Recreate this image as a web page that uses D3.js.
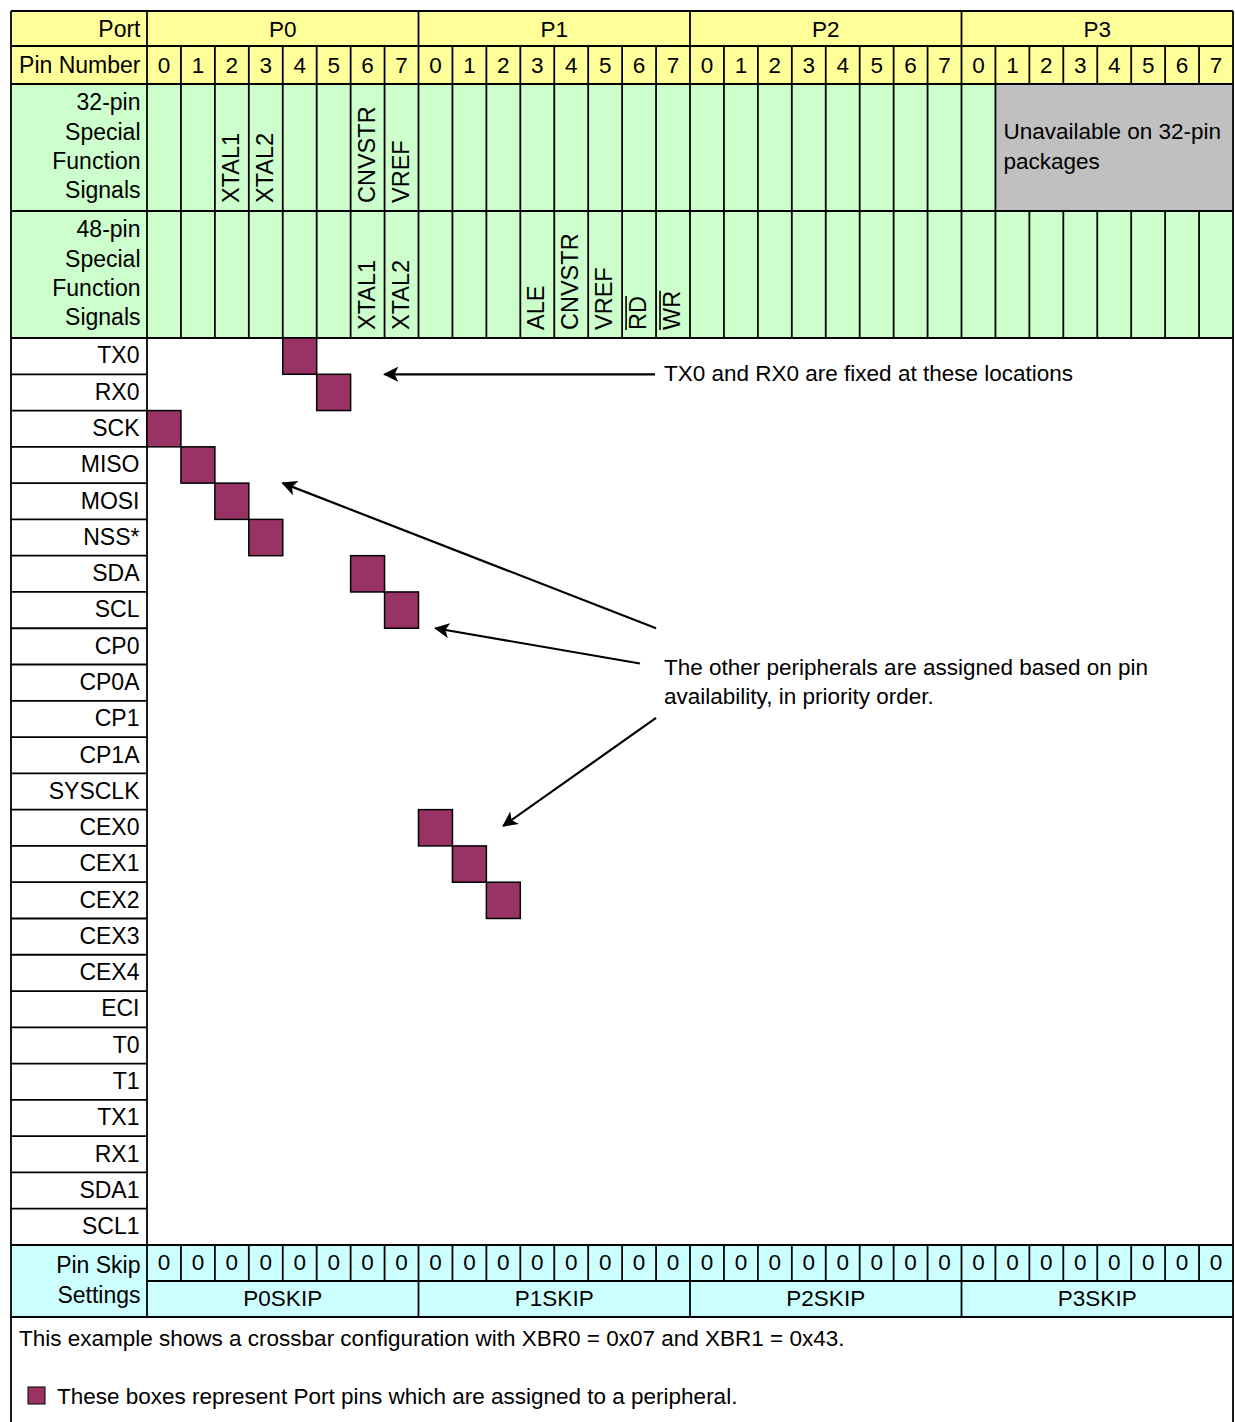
<!DOCTYPE html>
<html>
<head>
<meta charset="utf-8">
<script src="https://cdn.jsdelivr.net/npm/d3@7"></script>
<style>
body { margin: 0; background: #fff; }
svg text { font-family: "Liberation Sans", Arial, sans-serif; font-size: 22.5px; fill: #000; }
svg text.lbl { font-size: 23px; }
svg text.rot { font-size: 23.5px; }
</style>
</head>
<body>
<svg id="chart" width="1235" height="1422"></svg>
<script>
// ---- data ----
const ports = ["P0", "P1", "P2", "P3"];
const pinNumbers = [0, 1, 2, 3, 4, 5, 6, 7];
const peripherals = ["TX0", "RX0", "SCK", "MISO", "MOSI", "NSS*", "SDA", "SCL", "CP0", "CP0A",
    "CP1", "CP1A", "SYSCLK", "CEX0", "CEX1", "CEX2", "CEX3", "CEX4", "ECI", "T0", "T1",
    "TX1", "RX1", "SDA1", "SCL1"];
// crossbar assignment: signal -> port pin index (0..31)
const assignedSignals = ["TX0", "RX0", "SCK", "MISO", "MOSI", "NSS*", "SDA", "SCL", "CEX0", "CEX1", "CEX2"];
const assignedPins = [4, 5, 0, 1, 2, 3, 6, 7, 8, 9, 10];
const special32Pins = [2, 3, 6, 7];
const special32Names = ["XTAL1", "XTAL2", "CNVSTR", "VREF"];
const special48Pins = [6, 7, 11, 12, 13, 14, 15];
const special48Names = ["XTAL1", "XTAL2", "ALE", "CNVSTR", "VREF", "RD", "WR"];
const special48Bar = [false, false, false, false, false, true, true];
const unavailable32First = 25;   // P3.1 .. P3.7 not bonded on 32-pin
const skipBits = [0, 0, 0, 0, 0, 0, 0, 0, 0, 0, 0, 0, 0, 0, 0, 0,
                  0, 0, 0, 0, 0, 0, 0, 0, 0, 0, 0, 0, 0, 0, 0, 0];
const skipRegisters = ["P0SKIP", "P1SKIP", "P2SKIP", "P3SKIP"];

// ---- layout ----
const xLeft = 11, labelRight = 147, xRight = 1233, yTop = 11;
const yPort = [11, 46], yPin = [46, 84], y32 = [84, 211], y48 = [211, 338];
const yPeriph = [338, 1245], ySkip = [1245, 1281], ySkipName = [1281, 1317];
const yBottom = 1422;

const colors = {header: "#ffff99", special: "#ccffcc", gray: "#c0c0c0", skip: "#ccffff", pin: "#993366"};

const svg = d3.select("#chart");
const nPins = ports.length * pinNumbers.length;
const x = d3.scaleBand().domain(d3.range(nPins)).range([labelRight, xRight]);
const xPort = d3.scaleBand().domain(ports).range([labelRight, xRight]);
const y = d3.scaleBand().domain(peripherals).range(yPeriph);
const bw = x.bandwidth();

// backgrounds
const bands = [[yPort, colors.header], [yPin, colors.header], [y32, colors.special],
               [y48, colors.special], [[ySkip[0], ySkipName[1]], colors.skip]];
svg.selectAll("rect.band").data(bands).enter().append("rect")
    .attr("x", xLeft).attr("width", xRight - xLeft)
    .attr("y", d => d[0][0]).attr("height", d => d[0][1] - d[0][0])
    .attr("fill", d => d[1]);

svg.append("rect")
    .attr("x", x(unavailable32First)).attr("y", y32[0])
    .attr("width", xRight - x(unavailable32First)).attr("height", y32[1] - y32[0])
    .attr("fill", colors.gray);

// grid lines
const g = svg.append("g").attr("stroke", "#000").attr("stroke-width", 1.8).attr("fill", "none");
function line(x1, y1, x2, y2) {
    g.append("line").attr("x1", x1).attr("y1", y1).attr("x2", x2).attr("y2", y2);
}
line(xLeft, yTop, xRight, yTop);
line(xLeft, yTop, xLeft, yBottom);
line(xRight, yTop, xRight, yBottom);
[yPort[1], yPin[1], y32[1], y48[1], ySkip[0], ySkipName[1]].forEach(v => line(xLeft, v, xRight, v));
line(labelRight, ySkip[1], xRight, ySkip[1]);
line(labelRight, yTop, labelRight, ySkipName[1]);
peripherals.slice(1).forEach(p => line(xLeft, y(p), labelRight, y(p)));
d3.range(1, nPins).forEach(i => {
    const xi = x(i);
    if (i % 8 === 0) {
        line(xi, yPort[0], xi, yPort[1]);
        line(xi, ySkipName[0], xi, ySkipName[1]);
    }
    line(xi, yPin[0], xi, y32[0]);
    if (i <= unavailable32First) line(xi, y32[0], xi, y32[1]);
    line(xi, y48[0], xi, y48[1]);
    line(xi, ySkip[0], xi, ySkip[1]);
});

// header text
const labelX = 140.5;
function label(txt, yc) {
    svg.append("text").attr("class", "lbl").attr("x", labelX).attr("y", yc).attr("dy", "0.36em")
        .attr("text-anchor", "end").text(txt);
}
label("Port", 29);
label("Pin Number", 65);
["32-pin", "Special", "Function", "Signals"].forEach((t, i) => label(t, 102 + i * 29.3));
["48-pin", "Special", "Function", "Signals"].forEach((t, i) => label(t, 229 + i * 29.3));
label("Pin Skip", 1265);
label("Settings", 1295);

svg.selectAll("text.port").data(ports).enter().append("text")
    .attr("x", d => xPort(d) + xPort.bandwidth() / 2).attr("y", 29).attr("dy", "0.36em")
    .attr("text-anchor", "middle").text(d => d);

svg.selectAll("text.pin").data(d3.range(nPins)).enter().append("text")
    .attr("x", d => x(d) + bw / 2).attr("y", 65).attr("dy", "0.36em")
    .attr("text-anchor", "middle").text(d => pinNumbers[d % 8]);

svg.selectAll("text.skip").data(skipBits).enter().append("text")
    .attr("x", (d, i) => x(i) + bw / 2).attr("y", 1262).attr("dy", "0.36em")
    .attr("text-anchor", "middle").text(d => d);

svg.selectAll("text.skipname").data(skipRegisters).enter().append("text")
    .attr("x", (d, i) => xPort(ports[i]) + xPort.bandwidth() / 2).attr("y", 1298).attr("dy", "0.36em")
    .attr("text-anchor", "middle").text(d => d);

// special function signals (rotated)
function vertical(pins, names, bars, yb) {
    pins.forEach((p, i) => {
        const gg = svg.append("g").attr("transform", `translate(${x(p) + bw / 2},${yb}) rotate(-90)`);
        const t = gg.append("text").attr("class", "rot").attr("x", 0).attr("y", 7).text(names[i]);
        if (bars && bars[i]) {
            const len = t.node().getComputedTextLength();
            gg.append("line").attr("x1", 0).attr("x2", len).attr("y1", -13).attr("y2", -13)
                .attr("stroke", "#000").attr("stroke-width", 1.6);
        }
    });
}
vertical(special32Pins, special32Names, null, y32[1] - 8);
vertical(special48Pins, special48Names, special48Bar, y48[1] - 8);

svg.append("text").attr("x", x(unavailable32First) + 8).attr("y", 131).attr("dy", "0.36em").text("Unavailable on 32-pin");
svg.append("text").attr("x", x(unavailable32First) + 8).attr("y", 161).attr("dy", "0.36em").text("packages");

// peripheral labels
svg.selectAll("text.periph").data(peripherals).enter().append("text")
    .attr("class", "lbl")
    .attr("x", labelX - 1).attr("y", d => y(d) + y.bandwidth() / 2 - 1).attr("dy", "0.36em")
    .attr("text-anchor", "end").text(d => d);

// assigned pins
svg.selectAll("rect.assigned").data(assignedSignals).enter().append("rect")
    .attr("x", (d, i) => x(assignedPins[i])).attr("y", d => y(d))
    .attr("width", bw).attr("height", y.bandwidth())
    .attr("fill", colors.pin).attr("stroke", "#000").attr("stroke-width", 1.5);

// annotation arrows
svg.append("defs").append("marker")
    .attr("id", "head").attr("viewBox", "0 0 10 10").attr("refX", 9).attr("refY", 5)
    .attr("markerWidth", 7).attr("markerHeight", 7).attr("markerUnits", "strokeWidth").attr("orient", "auto")
    .append("path").attr("d", "M0,0 L10,5 L0,10 L2.5,5 Z").attr("fill", "#000");

const hb = y.bandwidth() / 2;
const arrows = [
    [655, y("RX0"), x(7), y("RX0")],
    [x(15), y("CP0"), x(4), y("MOSI")],
    [640, y("CP0A") - 1, x(8) + bw / 2, y("CP0")],
    [x(15), y("CP1") + hb - 1, x(10) + bw / 2, y("CEX0") + hb - 2]
];
svg.selectAll("line.arrow").data(arrows).enter().append("line")
    .attr("x1", d => d[0]).attr("y1", d => d[1]).attr("x2", d => d[2]).attr("y2", d => d[3])
    .attr("stroke", "#000").attr("stroke-width", 2.2).attr("marker-end", "url(#head)");

svg.append("text").attr("x", 664).attr("y", 373).attr("dy", "0.36em").text("TX0 and RX0 are fixed at these locations");
svg.append("text").attr("x", 664).attr("y", 667).attr("dy", "0.36em").text("The other peripherals are assigned based on pin");
svg.append("text").attr("x", 664).attr("y", 696).attr("dy", "0.36em").text("availability, in priority order.");

// footer
svg.append("text").attr("x", 19).attr("y", 1338).attr("dy", "0.36em")
    .text("This example shows a crossbar configuration with XBR0 = 0x07 and XBR1 = 0x43.");
svg.append("rect").attr("x", 28).attr("y", 1387).attr("width", 17).attr("height", 17)
    .attr("fill", colors.pin).attr("stroke", "#000").attr("stroke-width", 1);
svg.append("text").attr("x", 57).attr("y", 1396).attr("dy", "0.36em")
    .text("These boxes represent Port pins which are assigned to a peripheral.");
</script>
</body>
</html>
